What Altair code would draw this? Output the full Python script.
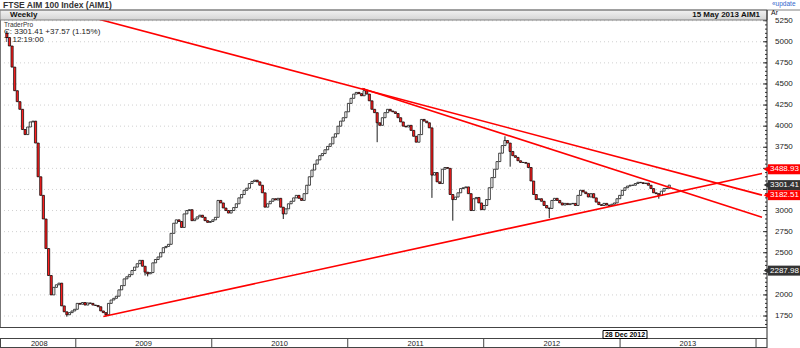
import altair as alt
import pandas as pd

# ---------------- data ----------------
closes = [
    5050, 4950, 4700, 4420, 4290, 4200, 3960, 3900, 3990, 4050,
    4060, 3800, 3400, 3180, 2900, 2550, 2230, 2000, 2090, 2120,
    2140, 1870, 1800, 1765, 1790, 1810, 1830, 1900, 1890, 1910,
    1880, 1905, 1900, 1880, 1875, 1860, 1810, 1790, 1765, 1900,
    1940, 1960, 1985, 2060, 2110, 2190, 2215, 2240, 2290, 2330,
    2370, 2410, 2340, 2270, 2250, 2265, 2380, 2420, 2450, 2500,
    2560, 2575, 2600, 2730, 2850, 2890, 2870, 2800, 2960, 3000,
    3010, 2880, 2900, 2925, 2945, 2920, 2880, 2860, 2870, 2890,
    2920, 3120, 3090, 3030, 3000, 2970, 3000, 3035, 3080, 3150,
    3190, 3240, 3265, 3320, 3345, 3360, 3340, 3300, 3210, 3040,
    3080, 3110, 3140, 3125, 3145, 3040, 2960, 3020, 3080, 3110,
    3150, 3180, 3145, 3120, 3200, 3300, 3400, 3480, 3550, 3600,
    3650, 3675, 3720, 3760, 3790, 3870, 3910, 4000, 4060, 4100,
    4170, 4270, 4330, 4380, 4400, 4385, 4360, 4420, 4380, 4300,
    4200, 4160, 4040, 4010, 4100, 4160, 4200, 4180, 4170, 4150,
    4100, 4050, 4000, 3990, 4010, 3950, 3880, 3810, 3900, 4080,
    4060, 4040, 3980, 3420, 3450, 3340, 3320, 3490, 3510, 3500,
    3190, 3130, 3160, 3210, 3260, 3270, 3280, 3200, 3000, 3140,
    3155, 3090, 3010, 3060, 3130, 3270, 3390, 3490, 3580, 3680,
    3770, 3830, 3800, 3700, 3650, 3630, 3590, 3570, 3570, 3560,
    3510, 3350, 3190, 3130, 3140, 3110, 3060, 3030, 3025, 3120,
    3145, 3120, 3090, 3065, 3085, 3070, 3080, 3085, 3060, 3180,
    3240, 3220, 3200, 3160, 3200, 3150, 3100, 3070, 3060, 3085,
    3065, 3060, 3075, 3090, 3140, 3180, 3240, 3270, 3290, 3300,
    3300, 3320, 3335, 3330, 3320, 3325, 3300, 3260, 3210, 3200,
    3180, 3230, 3260, 3263.84, 3301.41,
]
first_open = 5100
start_date = "2008-06-30"

wick_low_idx = [23, 38, 53, 54, 106, 142, 163, 171, 193, 208, 250]
wick_low_val = [1742, 1745, 2230, 2220, 2900, 3810, 3150, 2880, 3520, 2910, 3140]
wick_high_idx = [0, 137, 191]
wick_high_val = [5130, 4450, 3880]

line_ids = ["L1", "L1", "L2", "L2", "L3", "L3"]
line_dates = ["2008-12-10", "2014-01-17", "2011-02-09", "2014-01-17", "2009-03-16", "2014-01-17"]
line_prices = [5365, 3183, 4446, 2921, 1744, 3440]

tag_values = [3488.93, 3301.41, 3182.51, 2287.98]
tag_labels = ["3488.93", "3301.41", "3182.51", "2287.98"]
tag_colors = ["#ff0000", "#333333", "#ff0000", "#333333"]

grid_values = [1750, 2000, 2250, 2500, 2750, 3000, 3250, 3500, 3750, 4000, 4250, 4500, 4750, 5000, 5250]
# labels that the price tags leave visible in the reference
label_values = [1750, 2000, 2500, 2750, 3000, 3750, 4000, 4250, 4500, 4750, 5000, 5250]
minor_values = list(range(1650, 5260, 50))

year_labels = ["2008", "2009", "2010", "2011", "2012", "2013"]
year_label_dates = ["2008-09-25", "2009-07-02", "2010-07-02", "2011-07-02", "2012-07-02", "2013-07-02"]
year_bounds = ["2009-01-01", "2010-01-01", "2011-01-01", "2012-01-01", "2013-01-01", "2014-01-01"]

# ---------------- tables ----------------
dates = pd.date_range(start_date, periods=len(closes), freq="7D")
opens = [first_open] + closes[:-1]
highs = [max(o, c) for o, c in zip(opens, closes)]
lows = [min(o, c) for o, c in zip(opens, closes)]
for i, v in zip(wick_low_idx, wick_low_val):
    lows[i] = min(lows[i], v)
for i, v in zip(wick_high_idx, wick_high_val):
    highs[i] = max(highs[i], v)
df = pd.DataFrame({
    "date": dates.strftime("%Y-%m-%d"),
    "open": opens, "close": closes, "high": highs, "low": lows,
})
df["dir"] = ["up" if c >= o else "down" for o, c in zip(opens, closes)]

lines_df = pd.DataFrame({"id": line_ids, "date": line_dates, "price": line_prices})
tags_df = pd.DataFrame({"price": tag_values, "label": tag_labels, "col": tag_colors})
grid_df = pd.DataFrame({"price": grid_values})
label_df = pd.DataFrame({"price": label_values})
minor_df = pd.DataFrame({"price": minor_values})
years_df = pd.DataFrame({"date": year_label_dates, "label": year_labels})
bounds_df = pd.DataFrame({"date": year_bounds})
one = pd.DataFrame({"a": [0]})

W, H = 767, 307
FONT = "Liberation Sans"

xscale = alt.Scale(type="utc", domain=[
    alt.DateTime(year=2008, month=6, date=25, utc=True),
    alt.DateTime(year=2014, month=1, date=17, utc=True)])
yscale = alt.Scale(domain=[1620, 5258], nice=False, zero=False)
X = alt.X("date:T", scale=xscale, axis=None)
Yp = alt.Y("price:Q", scale=yscale, axis=None)

grid = alt.Chart(grid_df).mark_rule(color="#d0d0d0", strokeDash=[1, 3], strokeWidth=1).encode(
    y=Yp, x=alt.value(0), x2=alt.value(W))

minor = alt.Chart(minor_df).mark_rule(color="#333333", strokeWidth=1).encode(
    y=Yp, x=alt.value(W - 2), x2=alt.value(W))
major = alt.Chart(grid_df).mark_rule(color="#333333", strokeWidth=1).encode(
    y=Yp, x=alt.value(W - 4), x2=alt.value(W))
axis_labels = alt.Chart(label_df).mark_text(align="left", baseline="middle", fontSize=8, font=FONT,
                                            color="#222222").encode(
    y=Yp, x=alt.value(775), text=alt.Text("price:Q", format="d"))

def txt(s, x, y, size=8, bold=False, color="#111111", align="left"):
    return alt.Chart(one).mark_text(
        text=s, align=align, baseline="middle", fontSize=size, font=FONT,
        fontWeight="bold" if bold else "normal", color=color
    ).encode(x=alt.value(x), y=alt.value(y))

info = [
    txt("TraderPro", 4, 4.5, size=6.5, color="#333333"),
    txt("C: 3301.41  +37.57 (1.15%)", 4, 11.5, size=8, color="#222222"),
    txt("T: 12:19:00", 4, 19.5, size=8, color="#222222"),
]

wicks = alt.Chart(df).mark_rule(color="#000000", strokeWidth=0.9).encode(
    x=X, y=alt.Y("low:Q", scale=yscale, axis=None), y2="high:Q")
bodies = alt.Chart(df).mark_bar(size=2.2, stroke="#000000", strokeWidth=0.7).encode(
    x=X, y=alt.Y("open:Q", scale=yscale, axis=None), y2="close:Q",
    fill=alt.Fill("dir:N", scale=alt.Scale(domain=["up", "down"], range=["#ffffff", "#ff1f1f"]),
                  legend=None))

trend = alt.Chart(lines_df).mark_line(color="#ff0000", strokeWidth=1.6, clip=True).encode(
    x=alt.X("date:T", scale=xscale, axis=None), y=Yp, detail="id:N")

# frame / header / footer
gradient = alt.Gradient(gradient="linear", x1=0, x2=0, y1=0, y2=1, stops=[
    alt.GradientStop(color="#f2f2f2", offset=0), alt.GradientStop(color="#d4d4d4", offset=1)])
header = alt.Chart(one).mark_rect(fill=gradient, stroke="#808080", strokeWidth=1).encode(
    x=alt.value(0), x2=alt.value(W), y=alt.value(-10), y2=alt.value(0))

def hline(y, x1=0, x2=W, color="#555555"):
    return alt.Chart(one).mark_rule(color=color, strokeWidth=1).encode(
        x=alt.value(x1), x2=alt.value(x2), y=alt.value(y))

def vline(x, y1, y2, color="#555555"):
    return alt.Chart(one).mark_rule(color=color, strokeWidth=1).encode(
        x=alt.value(x), y=alt.value(y1), y2=alt.value(y2))

frame = [
    hline(-10, 0, 800, "#808080"),
    vline(0.5, 0, H, "#777777"),
    vline(W, -10, 328, "#222222"),
    hline(H + 0.5, 0, W, "#444444"),
    hline(318.5, 0, W, "#444444"),
    hline(327.5, 0, W, "#444444"),
    vline(0.5, 318, 328, "#444444"),
]

bounds = alt.Chart(bounds_df).mark_rule(color="#444444", strokeWidth=1).encode(
    x=alt.X("date:T", scale=xscale, axis=None), y=alt.value(318.5), y2=alt.value(328))
years = alt.Chart(years_df).mark_text(fontSize=7.5, font=FONT, color="#222222", baseline="middle").encode(
    x=alt.X("date:T", scale=xscale, axis=None), y=alt.value(323.5), text="label:N")

cursor_box = alt.Chart(one).mark_rect(fill="#ffffff", stroke="#000000", strokeWidth=1).encode(
    x=alt.value(603), x2=alt.value(647), y=alt.value(310.5), y2=alt.value(318.5))
cursor_txt = txt("28 Dec 2012", 625, 314.7, size=7, bold=True, color="#000000", align="center")

head_texts = [
    txt("FTSE AIM 100 Index (AIM1)", 3, -15, size=8.5, bold=True, color="#333333"),
    txt("«update", 772, -16, size=6.5, color="#3366cc"),
    txt("Weekly", 10, -4.8, size=8, bold=True, color="#111111"),
    txt("15 May 2013   AIM1", 760, -4.8, size=8, bold=True, color="#111111", align="right"),
    txt("Ar", 771, -6.8, size=7, color="#111111"),
]

tag_bg = alt.Chart(tags_df).mark_rule(strokeWidth=10, strokeCap="butt").encode(
    y=Yp, x=alt.value(768), x2=alt.value(800), color=alt.Color("col:N", scale=None))
tag_arrow = alt.Chart(tags_df).mark_point(shape="triangle-left", filled=True, size=30, opacity=1).encode(
    y=Yp, x=alt.value(766), color=alt.Color("col:N", scale=None))
tag_txt = alt.Chart(tags_df).mark_text(align="left", baseline="middle", fontSize=8, font=FONT,
                                       color="#ffffff").encode(
    y=Yp, x=alt.value(770), text="label:N")

chart = alt.layer(
    grid, *info, wicks, bodies, trend, minor, major, axis_labels, header, *frame, bounds, years,
    cursor_box, cursor_txt, *head_texts, tag_bg, tag_arrow, tag_txt
).properties(
    width=W, height=H,
    padding={"left": 0, "top": 20, "right": 33, "bottom": 21},
    autosize=alt.AutoSizeParams(type="none"),
    background="#ffffff",
).configure_view(strokeWidth=0)

chart.save("out.html", embed_options={"renderer": "svg", "actions": False})
